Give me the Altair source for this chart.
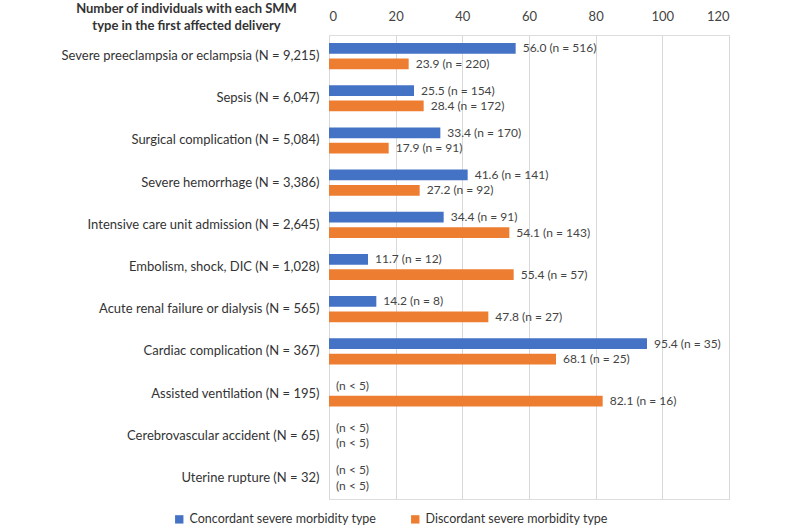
import altair as alt
import pandas as pd

categories = [
    "Severe preeclampsia or eclampsia (N = 9,215)",
    "Sepsis (N = 6,047)",
    "Surgical complication (N = 5,084)",
    "Severe hemorrhage (N = 3,386)",
    "Intensive care unit admission (N = 2,645)",
    "Embolism, shock, DIC (N = 1,028)",
    "Acute renal failure or dialysis (N = 565)",
    "Cardiac complication (N = 367)",
    "Assisted ventilation (N = 195)",
    "Cerebrovascular accident (N = 65)",
    "Uterine rupture (N = 32)",
]
concordant = [56.0, 25.5, 33.4, 41.6, 34.4, 11.7, 14.2, 95.4, None, None, None]
concordant_n = [516, 154, 170, 141, 91, 12, 8, 35, None, None, None]
discordant = [23.9, 28.4, 17.9, 27.2, 54.1, 55.4, 47.8, 68.1, 82.1, None, None]
discordant_n = [220, 172, 91, 92, 143, 57, 27, 25, 16, None, None]
series = ["Concordant severe morbidity type", "Discordant severe morbidity type"]
colors = ["#4472C4", "#ED7D31"]
x_ticks = [0, 20, 40, 60, 80, 100, 120]

rows = []
for i, cat in enumerate(categories):
    for s, vals, ns in ((series[0], concordant, concordant_n), (series[1], discordant, discordant_n)):
        v = vals[i]
        n = ns[i]
        if v is None:
            label = "(n < 5)"
            xpos = 0.0
        else:
            label = f"{v:.1f} (n = {n})"
            xpos = v
        rows.append({"category": cat, "series": s, "value": v, "xpos": xpos, "label": label})
df = pd.DataFrame(rows)

FONT = "Lato"

y_enc = alt.Y("category:N", sort=categories,
              scale=alt.Scale(paddingInner=0.38, paddingOuter=0.19),
              axis=alt.Axis(title=["Number of individuals with each SMM", "type in the first affected delivery"],
                            titleAngle=0, titleAlign="center", titleBaseline="top",
                            titleX=-143, titleY=-33, titleFontSize=13, titleFontWeight="bold",
                            titleColor="#333333", titleFont=FONT, titleLineHeight=17,
                            labelFontSize=13, labelColor="#333333", labelFont=FONT, labelLimit=320,
                            labelPadding=10, domain=False, ticks=False, grid=False))
yoff = alt.YOffset("series:N", sort=series, scale=alt.Scale(paddingInner=0.3))

bars = alt.Chart(df).mark_bar().encode(
    x=alt.X("value:Q", scale=alt.Scale(domain=[0, 120], nice=False),
            axis=alt.Axis(orient="top", values=x_ticks, title=None, domain=False, ticks=False,
                          grid=True, gridColor="#d9d9d9", labelFontSize=13, labelColor="#444444",
                          labelFont=FONT, labelPadding=12)),
    y=y_enc,
    yOffset=yoff,
    color=alt.Color("series:N", sort=series,
                    scale=alt.Scale(domain=series, range=colors),
                    legend=alt.Legend(title=None, orient="none", direction="horizontal",
                                      legendX=-156, legendY=478, symbolType="square",
                                      symbolSize=70, symbolStrokeWidth=0, labelFontSize=12.5,
                                      labelColor="#333333", labelFont=FONT, labelLimit=300,
                                      columnPadding=32, labelOffset=4)),
)

texts = alt.Chart(df).mark_text(align="left", baseline="middle", dx=7, fontSize=12,
                                font=FONT, color="#444444").encode(
    x=alt.X("xpos:Q"),
    y=alt.Y("category:N", sort=categories),
    yOffset=yoff,
    text="label:N",
)

chart = alt.layer(bars, texts).properties(
    width=400, height=464,
    autosize=alt.AutoSizeParams(type="none"),
    padding={"left": 329, "top": 35, "right": 71, "bottom": 31},
).configure_view(stroke="#8c8c8c", strokeWidth=1).configure(background="white")

chart.save("out.html", embed_options={"renderer": "svg", "actions": False})
